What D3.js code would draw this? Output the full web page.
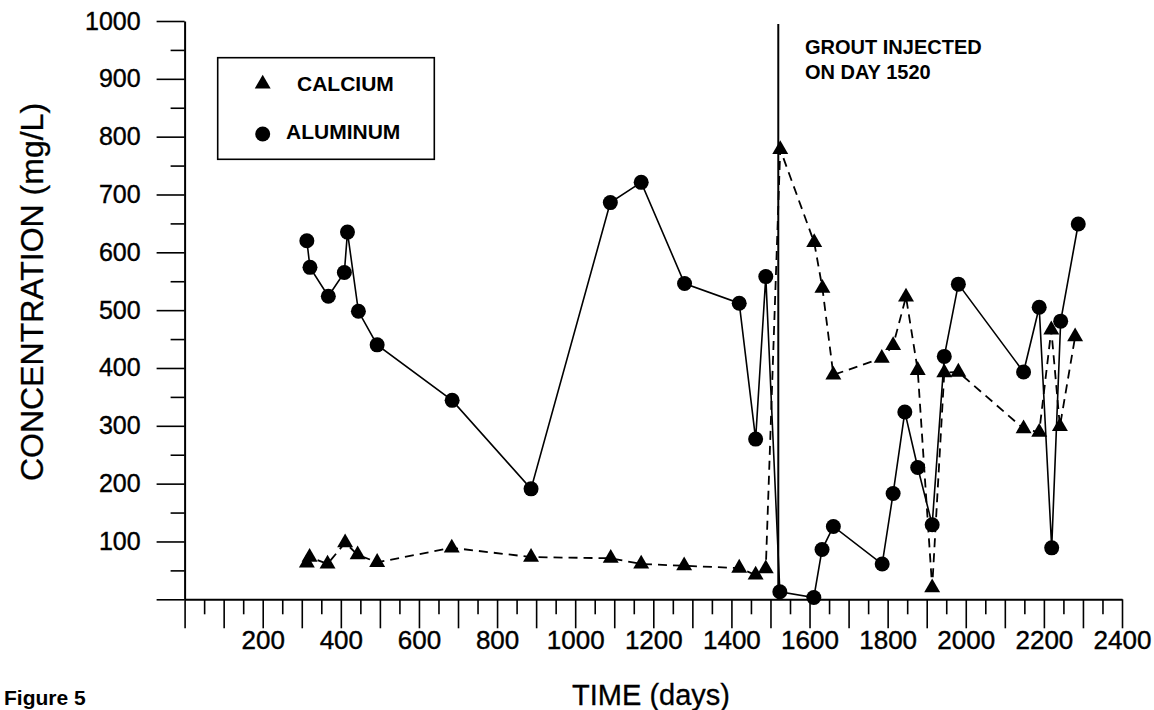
<!DOCTYPE html>
<html>
<head>
<meta charset="utf-8">
<script src="https://cdn.jsdelivr.net/npm/d3@7"></script>
<style>
  body { margin: 0; background: #fff; }
  svg text { font-family: "Liberation Sans", Arial, Helvetica, sans-serif; fill: #000; }
</style>
</head>
<body>
<div id="chart"></div>
<script>
// dati (giorni, mg/L)
var aluminumDays   = [313, 321, 368, 409, 417, 445, 493, 685, 887, 1090, 1169, 1280, 1420, 1462, 1488, 1524, 1611, 1632, 1661, 1786, 1814, 1844, 1877, 1914, 1945, 1981, 2148, 2188, 2220, 2243, 2288];
var aluminumValues = [620, 574, 524, 565, 635, 498, 440, 344, 191, 686, 721, 546, 512, 277, 558, 13, 3, 86, 126, 61, 183, 324, 228, 129, 420, 545, 393, 505, 89, 481, 649];

var calciumDays   = [313, 320, 366, 411, 443, 493, 684, 887, 1091, 1169, 1279, 1420, 1462, 1488, 1525, 1612, 1633, 1661, 1785, 1814, 1847, 1877, 1914, 1945, 1981, 2148, 2188, 2219, 2241, 2280];
var calciumValues = [63, 73, 61, 98, 77, 64, 89, 73, 71, 61, 58, 54, 42, 53, 778, 617, 538, 388, 417, 439, 523, 396, 20, 392, 393, 295, 289, 466, 299, 454];

var groutDay = 1520;
var xTickLabels = [200, 400, 600, 800, 1000, 1200, 1400, 1600, 1800, 2000, 2200, 2400];
var yTickLabels = [100, 200, 300, 400, 500, 600, 700, 800, 900, 1000];

var larghezza = 1154, altezza = 710;

var x = d3.scaleLinear().domain([0, 2400]).range([184.6, 1122]);
var y = d3.scaleLinear().domain([0, 1000]).range([599.3, 21]);

var svg = d3.select("#chart").append("svg")
  .attr("width", larghezza)
  .attr("height", altezza);

// asse Y
var yAxis = d3.axisLeft(y)
  .tickValues(d3.range(0, 1001, 50))
  .tickSizeOuter(0)
  .tickPadding(16)
  .tickFormat(function(d){ return yTickLabels.indexOf(d) >= 0 ? d : ""; });

var gy = svg.append("g").attr("transform", "translate(" + x(0) + ",0)").call(yAxis);
gy.select(".domain").attr("stroke-width", 2);
gy.selectAll(".tick line")
  .attr("stroke-width", 1.6)
  .attr("x2", function(d){ return d % 100 === 0 ? -28 : -14; });
gy.selectAll(".tick text")
  .attr("x", -44)
  .style("font-size", "25px")
  .style("stroke", "#000").style("stroke-width", 0.4);

// asse X
var xAxis = d3.axisBottom(x)
  .tickValues(d3.range(0, 2401, 50))
  .tickSizeOuter(0)
  .tickFormat(function(d){ return xTickLabels.indexOf(d) >= 0 ? d : ""; });

var gx = svg.append("g").attr("transform", "translate(0," + y(0) + ")").call(xAxis);
gx.select(".domain").attr("stroke-width", 2);
gx.selectAll(".tick line")
  .attr("stroke-width", 1.6)
  .attr("y2", function(d){ return d % 100 === 0 ? 29 : 15; });
gx.selectAll(".tick text")
  .attr("y", 50)
  .attr("dy", 0)
  .style("font-size", "26px")
  .style("stroke", "#000").style("stroke-width", 0.4);

// titoli assi
svg.append("text")
  .attr("x", 651).attr("y", 705)
  .attr("text-anchor", "middle")
  .style("font-size", "29px")
  .style("stroke", "#000").style("stroke-width", 0.3)
  .text("TIME (days)");

svg.append("text")
  .attr("transform", "translate(43,292) rotate(-90)")
  .attr("text-anchor", "middle")
  .style("font-size", "32px")
  .style("stroke", "#000").style("stroke-width", 0.3)
  .text("CONCENTRATION (mg/L)");

svg.append("text")
  .attr("x", 4).attr("y", 705)
  .style("font-size", "21px")
  .style("font-weight", "bold")
  .text("Figure 5");

// linea iniezione
svg.append("line")
  .attr("x1", x(groutDay)).attr("x2", x(groutDay))
  .attr("y1", y(0)).attr("y2", y(995))
  .attr("stroke", "#000").attr("stroke-width", 2);

var nota = svg.append("text")
  .attr("x", 805).attr("y", 54)
  .style("font-size", "20px")
  .style("font-weight", "bold");
nota.append("tspan").attr("x", 805).attr("y", 54).text("GROUT INJECTED");
nota.append("tspan").attr("x", 805).attr("y", 79).text("ON DAY 1520");

// serie
var calcium = calciumDays.map(function(d, i){ return {day: d, val: calciumValues[i]}; });
var aluminum = aluminumDays.map(function(d, i){ return {day: d, val: aluminumValues[i]}; });

var linea = d3.line()
  .x(function(d){ return x(d.day); })
  .y(function(d){ return y(d.val); });

svg.append("path")
  .datum(calcium)
  .attr("d", linea)
  .attr("fill", "none")
  .attr("stroke", "#000")
  .attr("stroke-width", 1.8)
  .attr("stroke-dasharray", "9,6");

svg.append("path")
  .datum(aluminum)
  .attr("d", linea)
  .attr("fill", "none")
  .attr("stroke", "#000")
  .attr("stroke-width", 1.6);

var triangolo = d3.symbol().type(d3.symbolTriangle).size(110);

svg.selectAll(".ca")
  .data(calcium)
  .enter().append("path")
  .attr("class", "ca")
  .attr("d", triangolo)
  .attr("transform", function(d){ return "translate(" + x(d.day) + "," + y(d.val) + ")"; })
  .attr("fill", "#000");

svg.selectAll(".al")
  .data(aluminum)
  .enter().append("circle")
  .attr("class", "al")
  .attr("cx", function(d){ return x(d.day); })
  .attr("cy", function(d){ return y(d.val); })
  .attr("r", 7.5)
  .attr("fill", "#000");

// legenda
var leg = svg.append("g");
leg.append("rect")
  .attr("x", 217.7).attr("y", 57.7)
  .attr("width", 216.6).attr("height", 101.6)
  .attr("fill", "#fff")
  .attr("stroke", "#000").attr("stroke-width", 1.6);
leg.append("path")
  .attr("d", triangolo)
  .attr("transform", "translate(262.7,84)")
  .attr("fill", "#000");
leg.append("circle")
  .attr("cx", 262.7).attr("cy", 134).attr("r", 7.5)
  .attr("fill", "#000");
leg.append("text")
  .attr("x", 297).attr("y", 91)
  .style("font-size", "21px").style("font-weight", "bold")
  .text("CALCIUM");
leg.append("text")
  .attr("x", 286).attr("y", 139)
  .style("font-size", "21px").style("font-weight", "bold")
  .text("ALUMINUM");
</script>
</body>
</html>
